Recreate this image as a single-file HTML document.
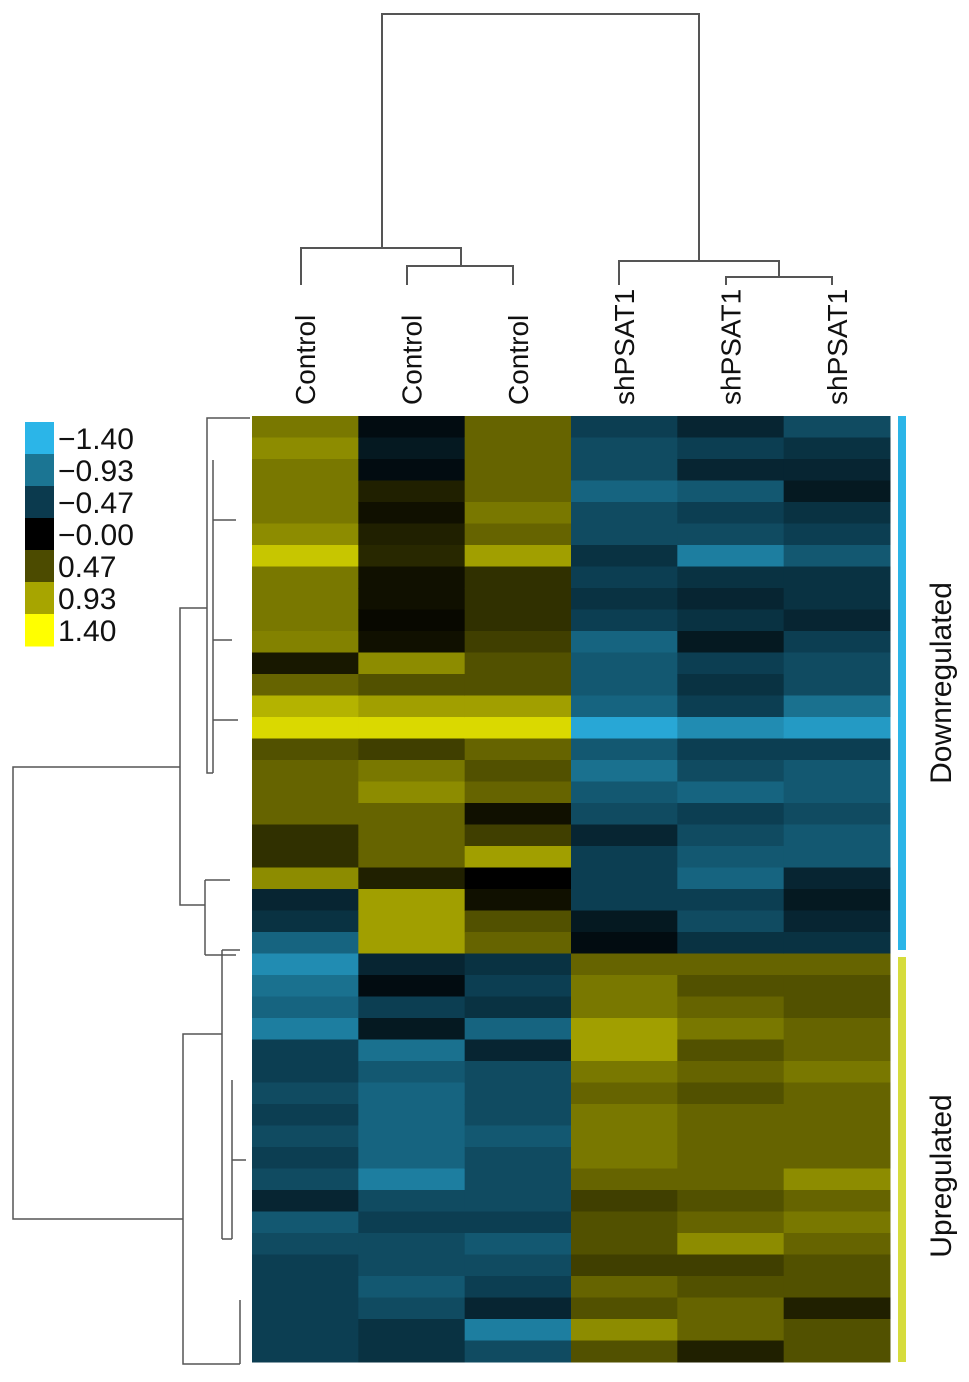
<!DOCTYPE html>
<html><head><meta charset="utf-8"><style>
body{margin:0;background:#fff;}
svg text{font-family:"Liberation Sans",Arial,sans-serif;}
</style></head><body>
<svg id="chart" width="969" height="1377" viewBox="0 0 969 1377" xmlns="http://www.w3.org/2000/svg">
<g id="coldendro" fill="none" stroke="#555" stroke-width="2"></g>
<g id="rowdendro" fill="none" stroke="#555" stroke-width="1.5"></g>
<g id="cells"></g>
<g id="collabels"></g>
<g id="legend"></g>
<rect x="898" y="416" width="8" height="534" fill="#2bb5e8"/>
<rect x="898" y="957" width="8" height="405" fill="#d6dc3c"/>
<text transform="translate(951,683) rotate(-90)" text-anchor="middle" font-size="30" fill="#111">Downregulated</text>
<text transform="translate(951,1176) rotate(-90)" text-anchor="middle" font-size="30" fill="#111">Upregulated</text>
</svg>
<script>
const columns = ["Control","Control","Control","shPSAT1","shPSAT1","shPSAT1"];
const legendTicks = [-1.40,-0.93,-0.47,0.00,0.47,0.93,1.40];
const legendLabels = ["\u22121.40","\u22120.93","\u22120.47","\u22120.00","0.47","0.93","1.40"];
const ctrl1 = [0.7,0.8,0.7,0.7,0.7,0.8,1.1,0.7,0.7,0.7,0.75,0.15,0.6,1.0,1.2,0.5,0.6,0.6,0.6,0.3,0.3,0.8,-0.3,-0.4,-0.8,
  -1.1,-0.9,-0.8,-1.0,-0.5,-0.5,-0.6,-0.5,-0.6,-0.5,-0.6,-0.3,-0.7,-0.6,-0.5,-0.5,-0.5,-0.5,-0.5];
const ctrl2 = [-0.1,-0.2,-0.1,0.2,0.1,0.2,0.25,0.1,0.1,0.05,0.1,0.8,0.5,0.9,1.2,0.4,0.7,0.8,0.6,0.6,0.6,0.2,0.9,0.9,0.9,
  -0.3,-0.1,-0.5,-0.2,-0.9,-0.7,-0.8,-0.8,-0.8,-0.8,-1.0,-0.6,-0.5,-0.6,-0.6,-0.7,-0.6,-0.4,-0.4];
const ctrl3 = [0.6,0.6,0.6,0.6,0.7,0.6,0.9,0.3,0.3,0.3,0.4,0.5,0.5,0.9,1.2,0.6,0.5,0.6,0.1,0.4,0.9,0.0,0.1,0.5,0.6,
  -0.4,-0.5,-0.4,-0.8,-0.3,-0.6,-0.6,-0.6,-0.7,-0.6,-0.6,-0.6,-0.5,-0.7,-0.6,-0.5,-0.3,-1.0,-0.6];
const sh1 = [-0.5,-0.6,-0.6,-0.8,-0.6,-0.6,-0.4,-0.5,-0.4,-0.5,-0.8,-0.7,-0.7,-0.8,-1.3,-0.7,-0.9,-0.7,-0.6,-0.3,-0.5,-0.5,-0.5,-0.2,-0.1,
  0.6,0.7,0.7,0.9,0.9,0.7,0.6,0.7,0.7,0.7,0.6,0.4,0.5,0.5,0.4,0.6,0.5,0.8,0.5];
const sh2 = [-0.3,-0.5,-0.3,-0.7,-0.5,-0.6,-1.0,-0.4,-0.3,-0.4,-0.2,-0.5,-0.4,-0.5,-1.1,-0.5,-0.6,-0.8,-0.5,-0.6,-0.7,-0.8,-0.5,-0.6,-0.4,
  0.6,0.5,0.6,0.7,0.5,0.6,0.5,0.6,0.6,0.6,0.6,0.5,0.6,0.8,0.4,0.5,0.6,0.6,0.2];
const sh3 = [-0.6,-0.4,-0.3,-0.2,-0.4,-0.5,-0.7,-0.4,-0.4,-0.3,-0.5,-0.6,-0.6,-0.9,-1.2,-0.5,-0.7,-0.7,-0.6,-0.7,-0.7,-0.3,-0.2,-0.3,-0.4,
  0.6,0.5,0.5,0.6,0.6,0.7,0.6,0.6,0.6,0.6,0.8,0.6,0.7,0.6,0.5,0.5,0.2,0.5,0.5];
const series = [ctrl1,ctrl2,ctrl3,sh1,sh2,sh3];

const NS="http://www.w3.org/2000/svg";
const stops=[[43,181,232],[27,117,148],[11,58,77],[0,0,0],[75,74,0],[168,166,0],[255,255,0]];
function color(v){
  let t=(Math.max(-1.4,Math.min(1.4,v))+1.4)/2.8*6;
  let i=Math.min(5,Math.floor(t)),f=t-i;
  const a=stops[i],b=stops[i+1];
  return "rgb("+a.map((c,k)=>Math.round(c+(b[k]-c)*f)).join(",")+")";
}
const X0=252,X1=890,Y0=416,Y1=1362;
const colW=(X1-X0)/columns.length;
function xScale(i){return X0+i*colW;}
const nRows=ctrl1.length;
const rowH=(Y1-Y0)/nRows;
function yScale(r){return Y0+r*rowH;}
const cells=document.getElementById("cells");
series.forEach((arr,c)=>{
  arr.forEach((v,r)=>{
    const el=document.createElementNS(NS,"rect");
    
    
    el.setAttribute("x",xScale(c));el.setAttribute("y",yScale(r));
    el.setAttribute("width",colW+0.5);el.setAttribute("height",rowH+0.5);
    el.setAttribute("fill",color(v));
    cells.appendChild(el);
  });
});
const cl=document.getElementById("collabels");
columns.forEach((name,c)=>{
  const t=document.createElementNS(NS,"text");
  
  
  const cx=xScale(c)+colW/2+10;
  t.setAttribute("transform","translate("+cx+",405) rotate(-90)");
  t.setAttribute("font-size","28");t.setAttribute("fill","#111");
  t.textContent=name;cl.appendChild(t);
});
const lg=document.getElementById("legend");
legendTicks.forEach((v,i)=>{
  const r=document.createElementNS(NS,"rect");
  
  
  r.setAttribute("x",25);r.setAttribute("y",422+i*32);r.setAttribute("width",29);r.setAttribute("height",32.5);
  r.setAttribute("fill",color(v));lg.appendChild(r);
  const t=document.createElementNS(NS,"text");
  
  
  t.setAttribute("x",58);t.setAttribute("y",449+i*32);t.setAttribute("font-size","30");t.setAttribute("fill","#111");
  t.textContent=legendLabels[i];lg.appendChild(t);
});
function path(g,d){const p=document.createElementNS(NS,"path");p.setAttribute("d",d);g.appendChild(p);}
const cd=document.getElementById("coldendro");
path(cd,"M382,248 V14 H699 V261");
path(cd,"M301,285 V248 H461 V266");
path(cd,"M407,285 V266 H513 V285");
path(cd,"M619,285 V261 H779 V277");
path(cd,"M726,285 V277 H832 V285");
const rd=document.getElementById("rowdendro");
path(rd,"M180,767 H13 V1219 H183");
path(rd,"M207,608 H180 V905 H205");
path(rd,"M222,1034 H183 V1364 H240");
path(rd,"M215,418 H207 V773 H213");
path(rd,"M250,418 H215");
path(rd,"M213,460 V773");
path(rd,"M205,880 V955");
path(rd,"M222,950 V1239");
path(rd,"M222,950 H240 M222,1239 H232");
path(rd,"M213,520 H236 M213,640 H232 M213,720 H238 M205,880 H230 M205,955 H236");
path(rd,"M232,1239 V1080 M232,1160 H246 M240,1300 V1364");
</script>
</body></html>
